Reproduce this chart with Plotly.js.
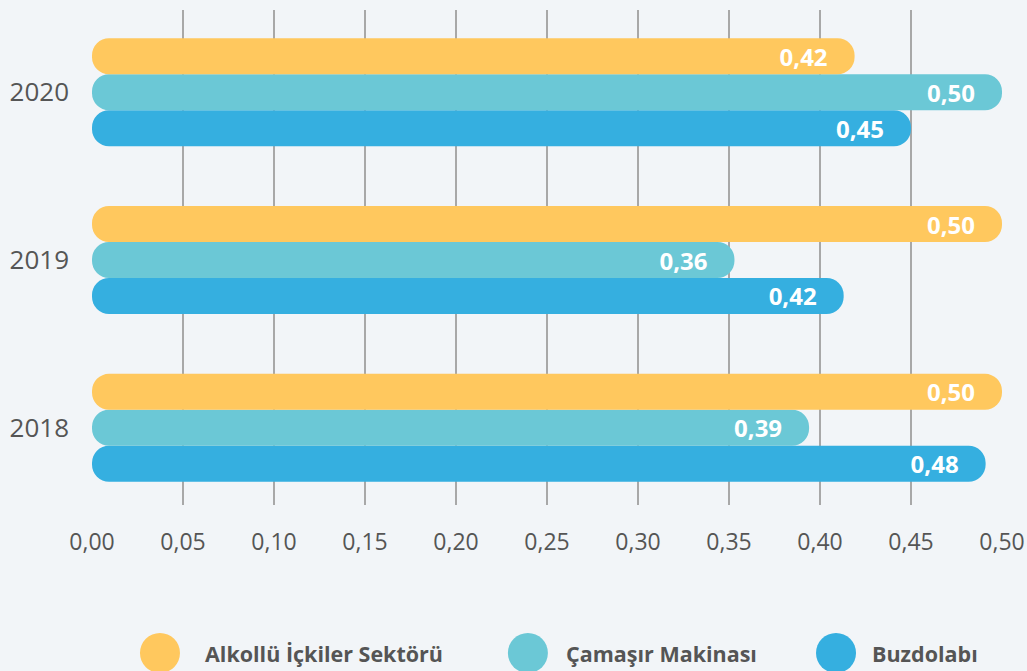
<!DOCTYPE html>
<html>
<head>
<meta charset="utf-8">
<script src="https://cdn.plot.ly/plotly-3.0.1.min.js"></script>
<style>
  html, body { margin: 0; padding: 0; background: #f2f5f8; }
  #chart { width: 1027px; height: 671px; }
</style>
</head>
<body>
<div id="chart"></div>
<script>
var years = ['2018', '2019', '2020'];

// bar lengths as drawn in the picture
var alkollu = [0.500, 0.500, 0.419];
var camasir = [0.394, 0.353, 0.500];
var buzdolabi = [0.491, 0.413, 0.450];

// values printed on the bars
var alkolluLabels = ['0,50', '0,50', '0,42'];
var camasirLabels = ['0,39', '0,36', '0,50'];
var buzdolabiLabels = ['0,48', '0,42', '0,45'];

var seriesNames = ['Buzdolabı', 'Çamaşır Makinası', 'Alkollü İçkiler Sektörü'];
var seriesValues = [buzdolabi, camasir, alkollu];
var seriesLabels = [buzdolabiLabels, camasirLabels, alkolluLabels];
var seriesColors = ['#35afe0', '#6bc8d6', '#ffc85e'];

// coloured pills (rounded text gets shrunk by plotly, so no text here)
var bars = seriesValues.map(function (vals, i) {
    return {
        type: 'bar',
        orientation: 'h',
        y: years,
        x: vals,
        base: 0,   // with a base set, both ends get rounded
        name: seriesNames[i],
        offsetgroup: 'g' + i,
        marker: { color: seriesColors[i], cornerradius: '50%' },
        hoverinfo: 'none',
        showlegend: false
    };
});

// transparent copies in the same slots carry the labels at full size
var labels = seriesValues.map(function (vals, i) {
    return {
        type: 'bar',
        orientation: 'h',
        y: years,
        x: vals,
        offsetgroup: 'g' + i,
        marker: { color: 'rgba(0,0,0,0)' },
        text: seriesLabels[i],
        texttemplate: '%{text}\u2003',
        textposition: 'inside',
        insidetextanchor: 'end',
        constraintext: 'none',
        textfont: { family: 'Open Sans', size: 24, color: '#ffffff', weight: 'bold' },
        hoverinfo: 'none',
        showlegend: false
    };
});

var data = bars.concat(labels);

// legend drawn by hand: big round swatches like the original
var legendDot = [0.0747, 0.479, 0.8176];
var legendText = [0.122, 0.5187, 0.855];
var legendNames = ['Alkollü İçkiler Sektörü', 'Çamaşır Makinası', 'Buzdolabı'];
var legendColors = ['#ffc85e', '#6bc8d6', '#35afe0'];
var shapes = [];
var annotations = [];
for (var i = 0; i < 3; i++) {
    shapes.push({
        type: 'circle', xref: 'paper', yref: 'paper',
        xsizemode: 'pixel', ysizemode: 'pixel',
        xanchor: legendDot[i], yanchor: -0.299,
        x0: -20, x1: 20, y0: -20, y1: 20,
        fillcolor: legendColors[i], line: { width: 0 }
    });
    annotations.push({
        xref: 'paper', yref: 'paper', x: legendText[i], y: -0.299,
        xanchor: 'left', yanchor: 'middle', showarrow: false,
        text: '<b>' + legendNames[i] + '</b>',
        font: { family: 'Open Sans', size: 21.5, color: '#555555' }
    });
}

var layout = {
    width: 1027,
    height: 671,
    margin: { l: 92, r: 25, t: 10, b: 166 },
    paper_bgcolor: '#f2f5f8',
    plot_bgcolor: '#f2f5f8',
    barmode: 'group',
    bargap: 0.357,
    bargroupgap: 0,
    showlegend: false,
    separators: ',.',
    font: { family: 'Open Sans', color: '#555555' },
    xaxis: {
        range: [0, 0.5],
        dtick: 0.05,
        tickformat: '.2f',
        showgrid: true,
        gridcolor: '#a8a8a8',
        gridwidth: 1.5,
        zeroline: false,
        showline: false,
        ticks: '',
        ticklabelstandoff: 21,
        tickfont: { size: 23, color: '#555555' },
        fixedrange: true
    },
    yaxis: {
        type: 'category',
        range: [-0.46, 2.49],
        showgrid: false,
        zeroline: false,
        showline: false,
        ticks: '',
        ticklabelstandoff: 22,
        tickfont: { size: 26, color: '#555555' },
        fixedrange: true
    },
    shapes: shapes,
    annotations: annotations
};

Plotly.newPlot('chart', data, layout, { displayModeBar: false, staticPlot: true });
</script>
</body>
</html>
